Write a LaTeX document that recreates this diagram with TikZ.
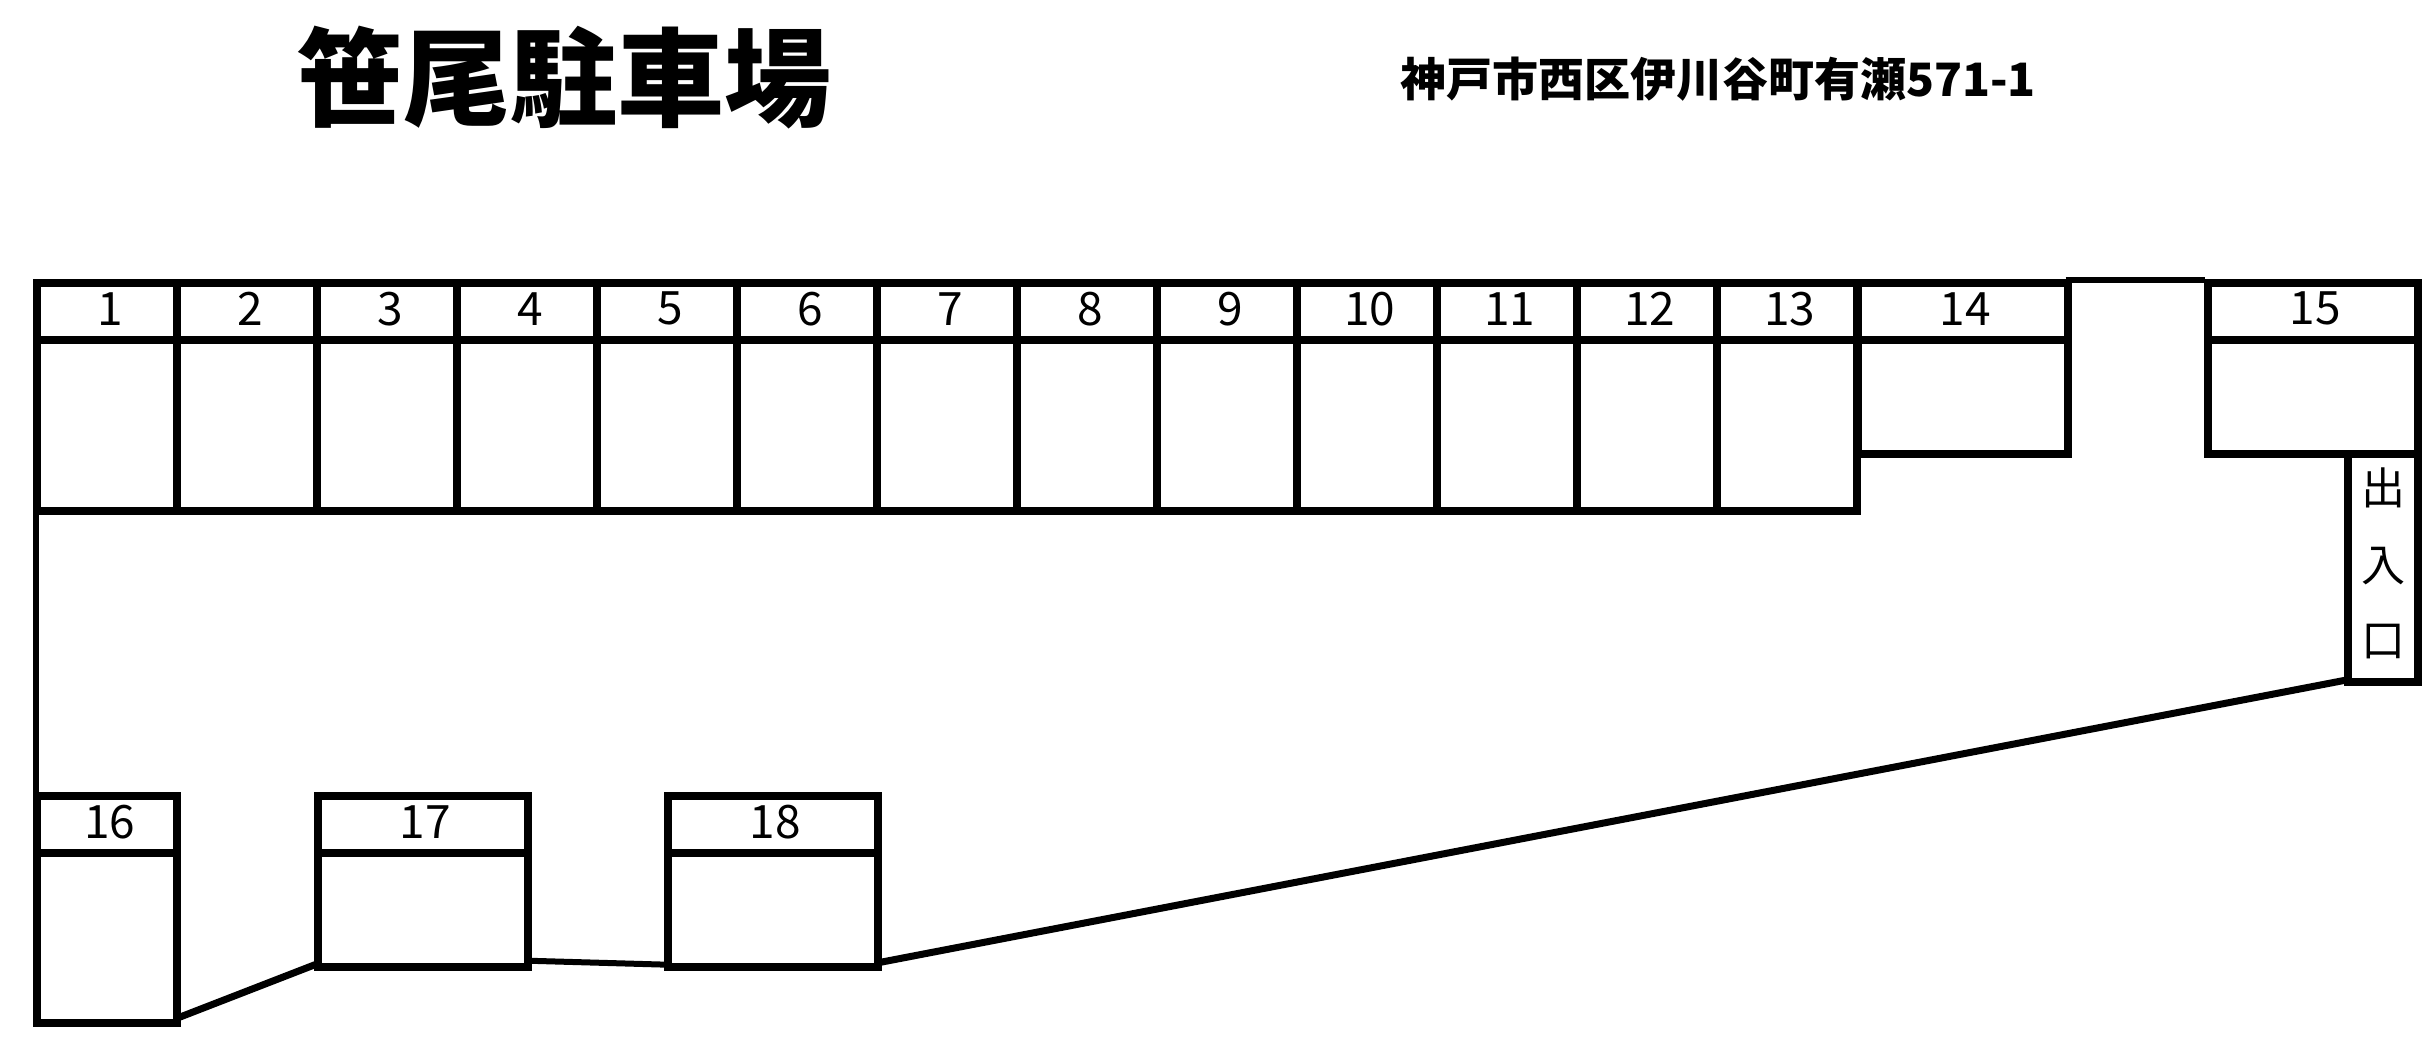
\documentclass[tikz,border=0pt]{standalone}
\usepackage{fontspec}
\setmainfont{Noto Sans CJK JP}
\tikzset{
  wall/.style={draw=black,line width=8pt,line join=miter},
  thinwall/.style={draw=black,line width=6pt},
  stallbox/.style={draw=black,line width=8pt,rectangle,inner sep=0pt,outer sep=0pt,fill=white},
  numlabel/.style={inner sep=0pt,font=\fontsize{46}{50}\selectfont},
  gatelabel/.style={inner sep=0pt,font=\fontsize{44}{48}\selectfont},
}
\newcommand{\stallat}[6]{%
  \node[stallbox,minimum width={(#3-#2)*1pt},minimum height={(#5-#4)*1pt}] (#1) at ({(#2+#3)/2},{(#4+#5)/2}) {};
  \draw[wall] (#2,{#4+57.3}) -- (#3,{#4+57.3});
  \node[numlabel] (#1label) at ({(#2+#3)/2+2.5},{#4+26}) {#6};
}
\begin{document}
\begin{tikzpicture}[x=1pt,y=-1pt]
\useasboundingbox (0,0) rectangle (2433,1057);
\fill[white] (0,0) rectangle (2433,1057);
\foreach \n in {1,...,13}{
  \pgfmathsetmacro{\xa}{37.3+140*(\n-1)}
  \pgfmathsetmacro{\xb}{37.3+140*\n}
  \stallat{s\n}{\xa}{\xb}{282.7}{510.7}{\n}
}
\stallat{s14}{1857.7}{2068}{282.7}{454}{14}
\stallat{s15}{2208}{2417.7}{282.7}{454}{15}
\stallat{s16}{37.3}{176.8}{796}{1023.3}{16}
\stallat{s17}{317.5}{527.5}{796}{966.7}{17}
\stallat{s18}{667.6}{878.3}{796}{966.7}{18}
\node[stallbox,minimum width=69.7pt,minimum height=227.7pt] (gate) at (2382.85,567.85) {};
\node[gatelabel] (gatea) at (2383.4,488) {出};
\node[gatelabel] (gateb) at (2383.4,566) {入};
\node[gatelabel] (gatec) at (2383.4,642) {口};
\coordinate (topa) at (2065.6,280);
\coordinate (topb) at (2204.5,280);
\draw[thinwall] (topa) -- (topb);
\coordinate (walla) at (35.5,506);
\coordinate (wallb) at (35.5,793);
\draw[thinwall] (walla) -- (wallb);
\draw[thinwall,line width=7pt] ([yshift=5pt]s16.south east) -- ([yshift=3pt]s17.south west);
\draw[thinwall] ([yshift=6pt]s17.south east) -- ([yshift=2pt]s18.south west);
\draw[thinwall,line width=7pt] ([yshift=4pt]s18.south east) -- ([yshift=2pt]gate.south west);
\node[inner sep=0pt,font=\fontsize{107}{120}\bfseries\selectfont] (title) at (564,78) {笹尾駐車場};
\node[inner sep=0pt,font=\fontsize{46}{50}\bfseries\selectfont] (addr) at (1718,79) {神戸市西区伊川谷町有瀬571-1};
\end{tikzpicture}
\end{document}
